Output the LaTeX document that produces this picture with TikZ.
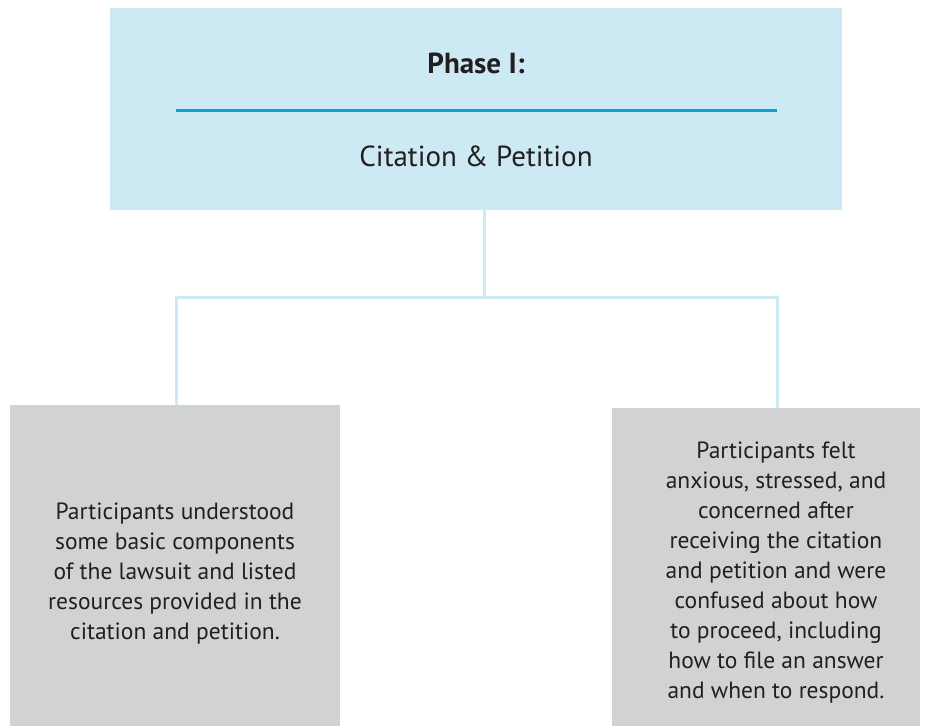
\documentclass[tikz,border=0pt]{standalone}
\usepackage{fontspec}
\setmainfont{PT Sans}
\definecolor{topfill}{HTML}{CDE9F3}
\definecolor{rulblue}{HTML}{0A9FD8}
\definecolor{boxgray}{HTML}{D1D2D4}
\definecolor{txt}{HTML}{231F20}
\definecolor{conn}{HTML}{CDE9F3}
\begin{document}
\begin{tikzpicture}[x=1pt,y=-1pt,
  topbox/.style={fill=topfill, draw=none, minimum width=732pt, minimum height=202pt, inner sep=0pt},
  graybox/.style={fill=boxgray, draw=none, inner sep=0pt},
  bodytxt/.style={text=txt, inner sep=0pt, align=center, font=\fontsize{23.5}{30}\selectfont},
  connline/.style={draw=conn, line width=3pt},
  ttl/.style={text=txt, inner sep=0pt}]
\useasboundingbox (0,0) rectangle (928,726);
\node[topbox] (top) at (476,109) {};
\node[ttl, font=\fontsize{29}{32}\selectfont\bfseries] (phase) at (476,63) {Phase I:};
\coordinate (rl) at (176,110);
\coordinate (rr) at (777,110);
\draw[draw=rulblue, line width=3pt] (rl) -- (rr);
\node[ttl, font=\fontsize{29}{32}\selectfont] (cite) at (476,156) {Citation \& Petition};
\node[graybox, minimum width=330pt, minimum height=321pt] (left) at (175,565.5) {};
\node[bodytxt] (lefttxt) at (175,574) {Participants understood\\some basic components\\of the lawsuit and listed\\resources provided in the\\citation and petition.};
\node[graybox, minimum width=308pt, minimum height=318pt] (right) at (766,567) {};
\node[bodytxt] (righttxt) at (776,573) {Participants felt\\anxious, stressed, and\\concerned after\\receiving the citation\\and petition and were\\confused about how\\to proceed, including\\how to file an answer\\and when to respond.};
\coordinate (j) at (484,297);
\draw[connline] (top.south -| j) -- (j);
\draw[connline] (left.north -| rl) |- (j) -| (right.north -| rr);
\end{tikzpicture}
\end{document}
